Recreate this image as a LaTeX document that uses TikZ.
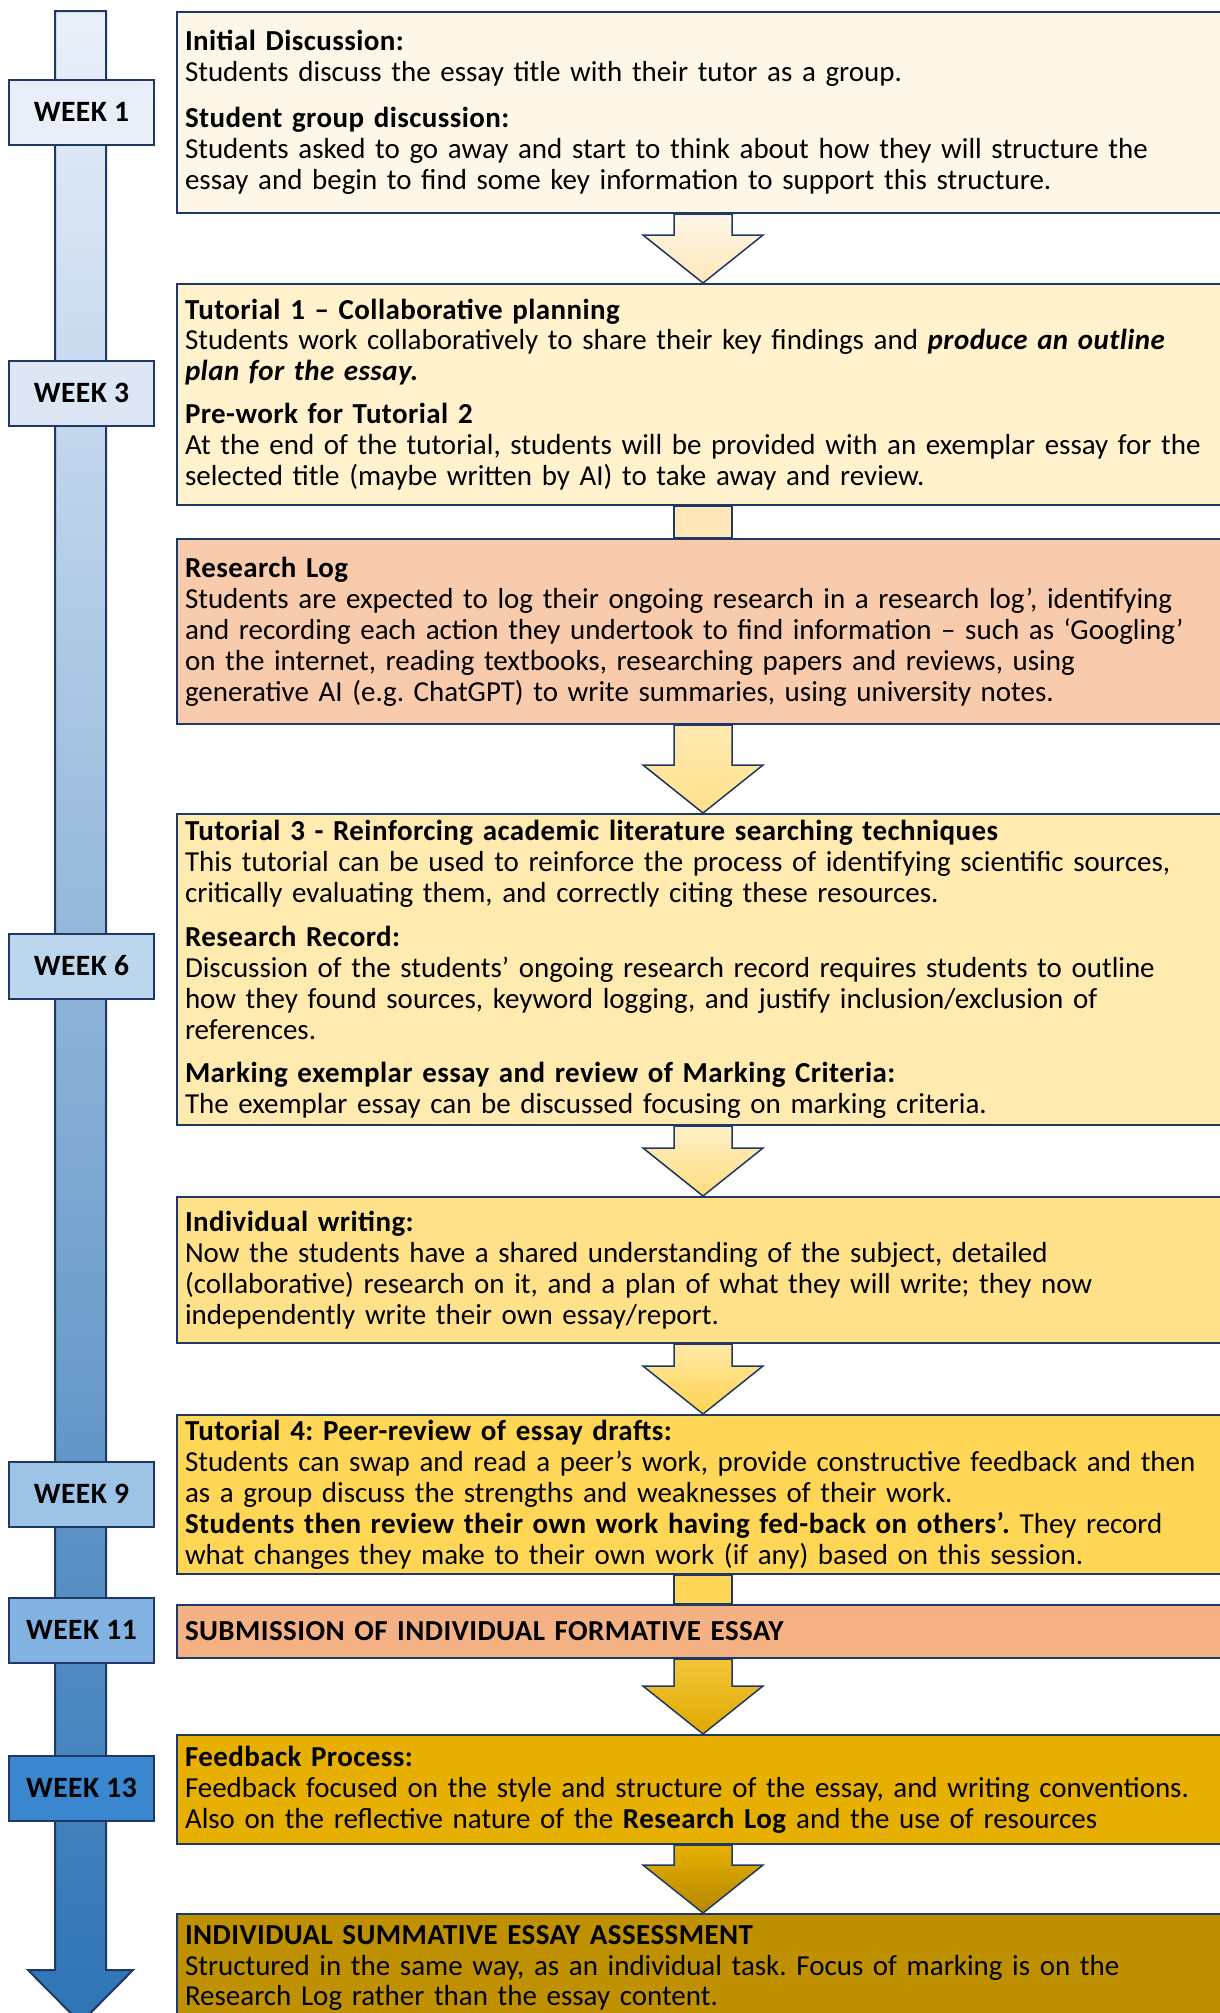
\documentclass[tikz,border=0pt]{standalone}
\usepackage{fontspec}
\setmainfont{Carlito}[BoldFeatures={LetterSpace=1.5}, BoldItalicFeatures={LetterSpace=1.5}]
\usetikzlibrary{calc}

\newlength\px
\setlength\px{0.025cm}

% outline and fills
\definecolor{edge}{HTML}{1F3864}
\definecolor{stageA}{HTML}{FEF7E8}
\definecolor{stageB}{HTML}{FFF2CC}
\definecolor{stageC}{HTML}{F8CBAD}
\definecolor{stageD}{HTML}{FFEAB0}
\definecolor{stageE}{HTML}{FFE189}
\definecolor{stageF}{HTML}{FFD655}
\definecolor{stageG}{HTML}{F4B183}
\definecolor{stageH}{HTML}{E7B000}
\definecolor{stageI}{HTML}{BF9000}
\definecolor{railtop}{HTML}{E9F0FA}
\definecolor{railmid}{HTML}{AFC1DD}
\definecolor{railbot}{HTML}{2E74B5}

% block arrow between two stages
\newcommand\blockarrow[3][]{%
  \draw[flow,#1] ([xshift=-29\px]#2.south -| ax) -- ([xshift=-29\px,yshift=48\px]#3.north -| ax)
    -- ++(-31\px,0) -- (#3.north -| ax) -- ++(60\px,48\px) -- ++(-31\px,0)
    -- ([xshift=29\px]#2.south -| ax) -- cycle;}

\begin{document}
\frenchspacing
\begin{tikzpicture}[x=\px, y=-\px,
  stage/.style={draw=edge, line width=2\px, anchor=north west, inner xsep=8\px, inner ysep=0pt,
    text width=1100\px, align=left, font={\fontsize{20.6}{22}\selectfont}},
  week/.style={draw=edge, line width=2\px, minimum width=145\px, minimum height=65\px,
    inner sep=0pt, font={\fontsize{21}{24}\selectfont\bfseries}},
  flow/.style={draw=edge, line width=1.5\px, line join=miter}]

\useasboundingbox (0,0) rectangle (1220,2013);
\clip (0,0) rectangle (1220,2013);

% timeline
\draw[edge, line width=2\px, top color=railtop, middle color=railmid, bottom color=railbot]
  (55,11) -- (55,1970) -- (28,1970) -- (80.5,2023) -- (133,1970) -- (106,1970) -- (106,11) -- cycle;

% week labels
\node[week, fill={rgb,255:red,232;green,239;blue,249}] (w1) at (81.5,112) {WEEK 1};
\node[week, fill={rgb,255:red,220;green,230;blue,244}] (w3) at (81.5,393) {WEEK 3};
\node[week, fill={rgb,255:red,188;green,214;blue,238}] (w6) at (81.5,966) {WEEK 6};
\node[week, fill={rgb,255:red,157;green,195;blue,230}] (w9) at (81.5,1494) {WEEK 9};
\node[week, fill={rgb,255:red,130;green,178;blue,226}] (w11) at (81.5,1630) {WEEK 11};
\node[week, fill={rgb,255:red,58;green,135;blue,208}] (w13) at (81.5,1788) {WEEK 13};

% stages
\coordinate (ax) at (703,0);

\node[stage, fill=stageA, minimum height=201\px] (b1) at (176,11) {%
\textbf{Initial Discussion:}\\
Students discuss the essay title with their tutor as a group.\\[15\px]
\textbf{Student group discussion:}\\
Students asked to go away and start to think about how they will structure the\\
essay and begin to find some key information to support this structure.};

\node[stage, fill=stageB, minimum height=221\px] (b2) at (176,283) {%
\textbf{Tutorial 1 – Collaborative planning}\\
Students work collaboratively to share their key findings and \textbf{\textit{produce an outline}}\\
\textbf{\textit{plan for the essay.}}\\[12\px]
\textbf{Pre-work for Tutorial 2}\\
At the end of the tutorial, students will be provided with an exemplar essay for the\\
selected title (maybe written by AI) to take away and review.};

\node[stage, fill=stageC, minimum height=185\px] (b3) at (176,538) {%
\textbf{Research Log}\\
Students are expected to log their ongoing research in a research log’, identifying\\
and recording each action they undertook to find information – such as ‘Googling’\\
on the internet, reading textbooks, researching papers and reviews, using\\
generative AI (e.g. ChatGPT) to write summaries, using university notes.};

\node[stage, fill=stageD, minimum height=311\px] (b4) at (176,813) {%
\textbf{Tutorial 3 - Reinforcing academic literature searching techniques}\\
This tutorial can be used to reinforce the process of identifying scientific sources,\\
critically evaluating them, and correctly citing these resources.\\[13\px]
\textbf{Research Record:}\\
Discussion of the students’ ongoing research record requires students to outline\\
how they found sources, keyword logging, and justify inclusion/exclusion of\\
references.\\[13\px]
\textbf{Marking exemplar essay and review of Marking Criteria:}\\
The exemplar essay can be discussed focusing on marking criteria.};

\node[stage, fill=stageE, minimum height=146\px] (b5) at (176,1196) {%
\textbf{Individual writing:}\\
Now the students have a shared understanding of the subject, detailed\\
(collaborative) research on it, and a plan of what they will write; they now\\
independently write their own essay/report.};

\node[stage, fill=stageF, minimum height=159\px] (b6) at (176,1414) {%
\textbf{Tutorial 4: Peer-review of essay drafts:}\\
Students can swap and read a peer’s work, provide constructive feedback and then\\
as a group discuss the strengths and weaknesses of their work.\\
\textbf{Students then review their own work having fed-back on others’.} They record\\
what changes they make to their own work (if any) based on this session.};

\node[stage, fill=stageG, minimum height=53\px] (b7) at (176,1604) {%
\textbf{SUBMISSION OF INDIVIDUAL FORMATIVE ESSAY}};

\node[stage, fill=stageH, minimum height=109\px] (b8) at (176,1734) {%
\textbf{Feedback Process:}\\
Feedback focused on the style and structure of the essay, and writing conventions.\\
Also on the reflective nature of the \textbf{Research Log} and the use of resources};

\node[stage, fill=stageI, minimum height=108\px] (b9) at (176,1913) {%
\textbf{INDIVIDUAL SUMMATIVE ESSAY ASSESSMENT}\\
Structured in the same way, as an individual task. Focus of marking is on the\\
Research Log rather than the essay content.};

% arrows between stages
\blockarrow[top color=stageA, bottom color=stageB!90!orange]{b1}{b2}
\draw[flow, fill=stageB!90!orange] ([xshift=-29\px]b2.south -| ax) rectangle ([xshift=29\px]b3.north -| ax);
\blockarrow[top color=stageD, bottom color={rgb,255:red,255;green,224;blue,140}]{b3}{b4}
\blockarrow[top color={rgb,255:red,255;green,240;blue,200}, bottom color={rgb,255:red,255;green,220;blue,126}]{b4}{b5}
\blockarrow[top color={rgb,255:red,255;green,233;blue,168}, bottom color={rgb,255:red,255;green,211;blue,76}]{b5}{b6}
\draw[flow, fill=stageF] ([xshift=-29\px]b6.south -| ax) rectangle ([xshift=29\px]b7.north -| ax);
\blockarrow[top color={rgb,255:red,243;green,198;blue,58}, bottom color={rgb,255:red,224;green,168;blue,0}]{b7}{b8}
\blockarrow[top color=stageH, bottom color={rgb,255:red,180;green,136;blue,0}]{b8}{b9}

\end{tikzpicture}
\end{document}
